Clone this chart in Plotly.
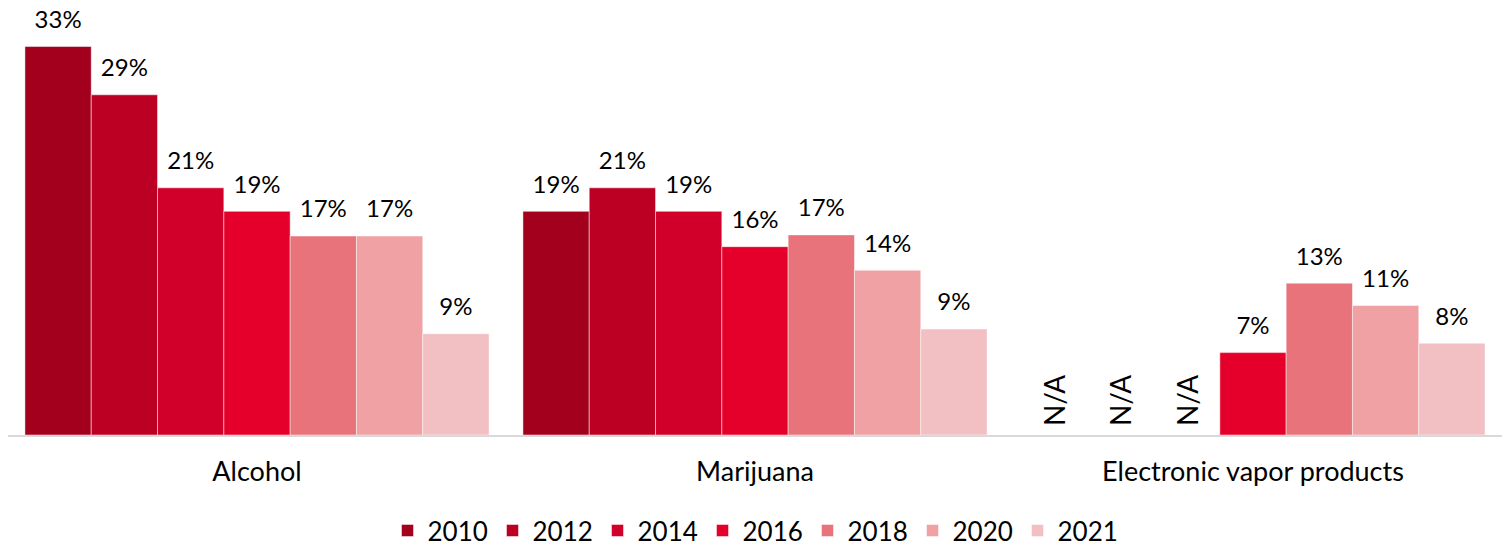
import plotly.graph_objects as go

categories = ["Alcohol", "Marijuana", "Electronic vapor products"]
years = ["2010", "2012", "2014", "2016", "2018", "2020", "2021"]
values = {
    "2010": [33, 19, None],
    "2012": [28.9, 21, None],
    "2014": [21, 19, None],
    "2016": [19, 16, 7],
    "2018": [16.9, 17, 12.9],
    "2020": [16.9, 14, 11],
    "2021": [8.6, 9, 7.8],
}
colors = ["#A3001E", "#BC0023", "#D1002A", "#E4002B", "#E8737A", "#EFA1A3", "#F2BFC2"]

FONT = "Lato"
LABEL_GAP = 0.9   # extra space (in value units) between bar top and its label
NA_GAP = 0.5

fig = go.Figure()
for yr, col in zip(years, colors):
    vals = values[yr]
    fig.add_trace(go.Bar(
        name=yr, x=categories, y=vals, offsetgroup=yr,
        marker=dict(color=col, line=dict(color="rgba(255,255,255,0.6)", width=0.8)),
        hovertemplate="%{x}<br>" + yr + ": %{y:.0f}%<extra></extra>",
    ))
    # transparent spacer bar carrying the value label above the real bar
    fig.add_trace(go.Bar(
        x=categories,
        y=[LABEL_GAP if v is not None else NA_GAP for v in vals],
        base=[v if v is not None else 0 for v in vals],
        offsetgroup=yr, showlegend=False, hoverinfo="skip",
        marker=dict(color="rgba(0,0,0,0)", line=dict(width=0)),
        text=[f"{v:.0f}%" if v is not None else "" for v in vals],
        textposition="outside", cliponaxis=False, constraintext="none",
        textfont=dict(size=24, color="#000000", family=FONT),
    ))
    if any(v is None for v in vals):
        fig.add_trace(go.Bar(
            x=categories,
            y=[NA_GAP if v is None else None for v in vals],
            base=[0 if v is None else None for v in vals],
            offsetgroup=yr, showlegend=False, hoverinfo="skip",
            marker=dict(color="rgba(0,0,0,0)", line=dict(width=0)),
            text=["N/A" if v is None else "" for v in vals],
            textposition="outside", textangle=-90, cliponaxis=False, constraintext="none",
            textfont=dict(size=28, color="#000000", family=FONT),
        ))

fig.update_layout(
    barmode="group", bargap=0.068, bargroupgap=0,
    width=1509, height=546,
    margin=dict(l=8, r=7, t=23, b=111, autoexpand=False),
    plot_bgcolor="white", paper_bgcolor="white",
    font=dict(family=FONT, color="#000000"),
    legend=dict(orientation="h", x=0.5, xanchor="center", y=-0.232, yanchor="middle",
                font=dict(size=26, family=FONT), traceorder="normal",
                itemwidth=30, tracegroupgap=0, entrywidth=60, entrywidthmode="pixels"),
    showlegend=True,
)
fig.update_xaxes(showline=True, linecolor="#D9D9D9", linewidth=2, ticks="",
                 tickfont=dict(size=27, family=FONT), showgrid=False,
                 ticklabelstandoff=12)
fig.update_yaxes(range=[0, 35], visible=False, showgrid=False)

fig.write_html("out.html", config={"displayModeBar": False},
               post_script="document.body.style.margin='0px';")
